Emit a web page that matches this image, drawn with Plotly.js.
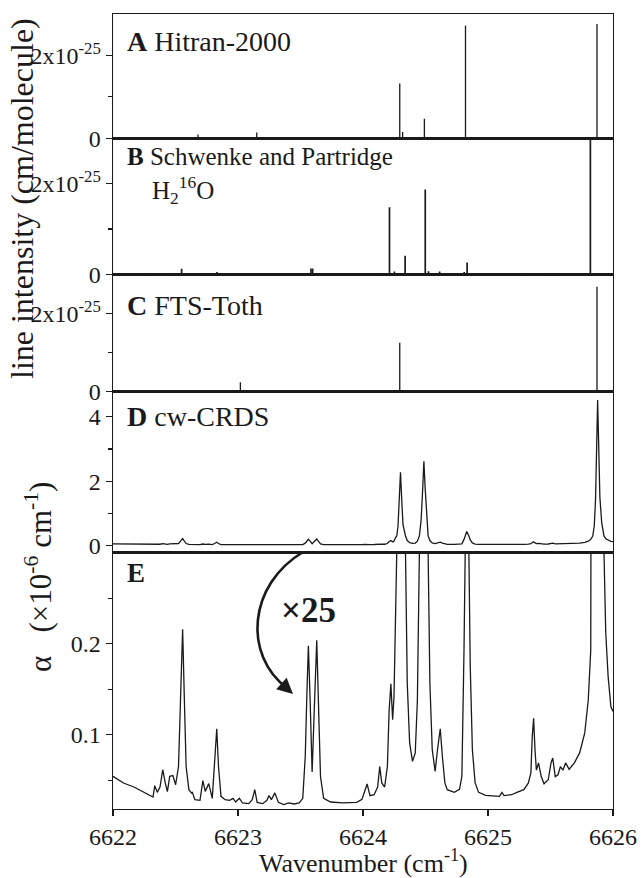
<!DOCTYPE html>
<html>
<head>
<meta charset="utf-8">
<script src="https://cdn.plot.ly/plotly-3.0.1.min.js"></script>
<style>
  html, body { margin: 0; padding: 0; background: #fff; }
  #chart { width: 643px; height: 878px; }
</style>
</head>
<body>
<div id="chart"></div>
<script>
// ---------------- DATA ----------------
// cw-CRDS absorption spectrum, alpha in 10^-6 cm^-1 (panels D and E)
const wavenumber = [6622.000, 6622.084, 6622.167, 6622.251, 6622.306, 6622.320, 6622.334, 6622.354, 6622.376, 6622.398,
  6622.418, 6622.435, 6622.454, 6622.479, 6622.501, 6622.524, 6622.540, 6622.557, 6622.571, 6622.585,
  6622.607, 6622.627, 6622.635, 6622.655, 6622.696, 6622.719, 6622.738, 6622.766, 6622.794, 6622.813,
  6622.830, 6622.844, 6622.864, 6622.897, 6622.933, 6622.961, 6622.981, 6623.011, 6623.036, 6623.086,
  6623.114, 6623.134, 6623.153, 6623.198, 6623.231, 6623.248, 6623.267, 6623.295, 6623.323, 6623.365,
  6623.407, 6623.448, 6623.490, 6623.518, 6623.538, 6623.552, 6623.563, 6623.577, 6623.593, 6623.610,
  6623.630, 6623.643, 6623.660, 6623.685, 6623.741, 6623.838, 6623.950, 6623.992, 6624.014, 6624.033,
  6624.056, 6624.089, 6624.117, 6624.134, 6624.150, 6624.173, 6624.195, 6624.209, 6624.223, 6624.237,
  6624.248, 6624.262, 6624.270, 6624.280, 6624.290, 6624.300, 6624.310, 6624.320, 6624.340, 6624.354,
  6624.373, 6624.396, 6624.418, 6624.435, 6624.451, 6624.465, 6624.478, 6624.487, 6624.497, 6624.510,
  6624.521, 6624.535, 6624.554, 6624.577, 6624.596, 6624.618, 6624.635, 6624.655, 6624.674, 6624.730,
  6624.772, 6624.791, 6624.808, 6624.819, 6624.830, 6624.847, 6624.858, 6624.875, 6624.897, 6624.925,
  6624.981, 6625.092, 6625.111, 6625.128, 6625.189, 6625.231, 6625.287, 6625.323, 6625.343, 6625.354,
  6625.365, 6625.376, 6625.387, 6625.404, 6625.426, 6625.448, 6625.482, 6625.504, 6625.518, 6625.538,
  6625.560, 6625.579, 6625.599, 6625.621, 6625.649, 6625.691, 6625.733, 6625.774, 6625.802, 6625.822,
  6625.838, 6625.850, 6625.860, 6625.870, 6625.877, 6625.885, 6625.895, 6625.910, 6625.928, 6625.942,
  6625.961, 6625.983, 6626.000];
const alpha = [0.0542, 0.0469, 0.0425, 0.0366, 0.033, 0.0315, 0.044, 0.0366, 0.0425, 0.0615,
  0.047, 0.0374, 0.0542, 0.055, 0.045, 0.065, 0.138, 0.216, 0.138, 0.065,
  0.0396, 0.036, 0.0366, 0.0286, 0.0278, 0.0495, 0.0377, 0.0462, 0.030, 0.065,
  0.1066, 0.065, 0.0322, 0.0286, 0.0278, 0.030, 0.026, 0.030, 0.0249, 0.0242,
  0.0286, 0.0396, 0.0256, 0.0242, 0.0278, 0.033, 0.0286, 0.036, 0.0256, 0.0231,
  0.025, 0.0238, 0.025, 0.030, 0.076, 0.149, 0.198, 0.138, 0.059, 0.127,
  0.204, 0.138, 0.054, 0.030, 0.026, 0.025, 0.0256, 0.029, 0.0377, 0.0458,
  0.033, 0.034, 0.0425, 0.065, 0.047, 0.0425, 0.065, 0.127, 0.156, 0.1165,
  0.142, 0.259, 0.30, 0.6, 1.4, 2.28, 1.4, 0.65, 0.30, 0.157,
  0.091, 0.0707, 0.080, 0.138, 0.30, 0.8, 1.8, 2.62, 1.8, 0.8,
  0.30, 0.157, 0.0835, 0.0597, 0.0835, 0.1066, 0.076, 0.047, 0.0396, 0.0366,
  0.040, 0.054, 0.193, 0.30, 0.44, 0.30, 0.175, 0.0835, 0.047, 0.0366,
  0.0333, 0.0322, 0.0366, 0.033, 0.034, 0.0366, 0.0396, 0.047, 0.058, 0.098,
  0.118, 0.0835, 0.061, 0.069, 0.054, 0.046, 0.0505, 0.069, 0.0744, 0.054,
  0.056, 0.065, 0.061, 0.069, 0.062, 0.069, 0.080, 0.102, 0.138, 0.193,
  0.30, 0.6, 1.4, 3.2, 4.52, 3.2, 1.5, 0.7, 0.30, 0.212,
  0.164, 0.131, 0.1256];

// Stick spectra: line positions (cm^-1) and intensities (cm/molecule)
const hitranPos = [6622.680, 6623.150, 6624.294, 6624.317, 6624.491, 6624.820, 6625.872];
const hitranInt = [0.09e-25, 0.14e-25, 1.32e-25, 0.15e-25, 0.47e-25, 2.72e-25, 2.76e-25];

const schwenkePos = [6622.312, 6622.404, 6622.427, 6622.444, 6622.549, 6622.707, 6622.789, 6622.832,
  6623.584, 6623.597, 6624.120, 6624.212, 6624.251, 6624.337, 6624.498, 6624.524, 6624.613,
  6624.810, 6624.833, 6625.264, 6625.517, 6625.819];
const schwenkeInt = [0.02e-25, 0.02e-25, 0.02e-25, 0.02e-25, 0.12e-25, 0.02e-25, 0.02e-25, 0.05e-25,
  0.13e-25, 0.13e-25, 0.03e-25, 1.48e-25, 0.06e-25, 0.41e-25, 1.87e-25, 0.07e-25, 0.06e-25,
  0.05e-25, 0.26e-25, 0.03e-25, 0.01e-25, 3.5e-25];

const tothPos = [6623.019, 6624.294, 6625.872];
const tothInt = [0.24e-25, 1.25e-25, 2.68e-25];

// Tick values / labels
const xTickVals = [6622, 6623, 6624, 6625, 6626];
const intensityTickVals = [0, 2e-25];
const intensityTickText = ['0', '2x10<sup>-25</sup>'];
const intensityMinor = [1e-25];
const crdsTickVals = [0, 2, 4];
const crdsMinor = [1, 3];
const zoomTickVals = [0.1, 0.2];
const zoomMinor = [0.05, 0.15, 0.25];

const panelLabels = ['<b>A</b> Hitran-2000', '<b>B</b> Schwenke and Partridge', '<b>C</b> FTS-Toth', '<b>D</b> cw-CRDS', '<b>E</b>'];

// ---------------- LAYOUT GEOMETRY ----------------
const W = 643, H = 878;
const M = {l: 113, r: 30, t: 14, b: 69};
const PW = W - M.l - M.r, PH = H - M.t - M.b;
const px2x = p => (p - M.l) / PW;
const py2y = p => (H - M.b - p) / PH;

// panel boundaries in pixels (top -> bottom)
const bA = [14, 138.3], bB = [138.3, 274.3], bC = [274.3, 391.7], bD = [391.7, 552.7], bE = [552.7, 809];
const dom = b => [py2y(b[1]), py2y(b[0])];

const FONT = 'Liberation Serif, Times New Roman, serif';
const INK = '#1a1a1a';

function sticks(pos, val) {
  const X = [], Y = [];
  pos.forEach((p, i) => { X.push(p, p, null); Y.push(0, val[i], null); });
  return {X, Y};
}

const sA = sticks(hitranPos, hitranInt);
const sB = sticks(schwenkePos, schwenkeInt);
const sC = sticks(tothPos, tothInt);

const lineStyle = {color: INK, width: 1.3};

const traces = [
  {x: wavenumber, y: alpha, xaxis: 'x', yaxis: 'y', type: 'scatter', mode: 'lines', line: lineStyle, hoverinfo: 'skip'},
  {x: wavenumber, y: alpha, xaxis: 'x2', yaxis: 'y2', type: 'scatter', mode: 'lines', line: lineStyle, hoverinfo: 'skip'},
  {x: sC.X, y: sC.Y, xaxis: 'x3', yaxis: 'y3', type: 'scatter', mode: 'lines', line: lineStyle, connectgaps: false, hoverinfo: 'skip'},
  {x: sB.X, y: sB.Y, xaxis: 'x4', yaxis: 'y4', type: 'scatter', mode: 'lines', line: {color: INK, width: 1.7}, connectgaps: false, hoverinfo: 'skip'},
  {x: sA.X, y: sA.Y, xaxis: 'x5', yaxis: 'y5', type: 'scatter', mode: 'lines', line: lineStyle, connectgaps: false, hoverinfo: 'skip'}
];

const baseX = {
  range: [6622, 6626], showline: true, mirror: true, linecolor: INK, linewidth: 1.4,
  showgrid: false, zeroline: false, fixedrange: true
};
const baseY = {
  showline: true, mirror: true, linecolor: INK, linewidth: 1.4, showgrid: false, zeroline: false,
  ticks: 'outside', ticklen: 6, tickwidth: 1.2, tickcolor: INK, fixedrange: true,
  tickfont: {family: FONT, size: 24, color: INK}, tickmode: 'array'
};

function intensityAxis(b) {
  return Object.assign({}, baseY, {
    domain: dom(b), range: [0, 3.0e-25],
    tickvals: intensityTickVals, ticktext: intensityTickText,
    minor: {tickmode: 'array', tickvals: intensityMinor, ticks: 'outside', ticklen: 4, tickcolor: INK, tickwidth: 1.2}
  });
}

function label(text, xp, yp, size, anchor) {
  return {text: text, x: px2x(xp), y: py2y(yp), xref: 'paper', yref: 'paper', xanchor: anchor || 'left', yanchor: 'middle',
          showarrow: false, font: {size: size, family: FONT, color: INK}};
}

const layout = {
  width: W, height: H, margin: M, showlegend: false,
  paper_bgcolor: '#fff', plot_bgcolor: '#fff',
  font: {family: FONT, color: INK},
  xaxis: Object.assign({}, baseX, {
    anchor: 'y', ticks: 'outside', ticklen: 6, tickwidth: 1.2, tickcolor: INK,
    tickmode: 'array', tickvals: xTickVals, ticktext: xTickVals.map(String),
    tickfont: {family: FONT, size: 24, color: INK}
  }),
  xaxis2: Object.assign({}, baseX, {anchor: 'y2', matches: 'x', showticklabels: false, ticks: ''}),
  xaxis3: Object.assign({}, baseX, {anchor: 'y3', matches: 'x', showticklabels: false, ticks: ''}),
  xaxis4: Object.assign({}, baseX, {anchor: 'y4', matches: 'x', showticklabels: false, ticks: ''}),
  xaxis5: Object.assign({}, baseX, {anchor: 'y5', matches: 'x', showticklabels: false, ticks: ''}),
  yaxis: Object.assign({}, baseY, {
    domain: dom(bE), range: [0.0183, 0.3003], anchor: 'x',
    tickvals: zoomTickVals, ticktext: zoomTickVals.map(String),
    minor: {tickmode: 'array', tickvals: zoomMinor, ticks: 'outside', ticklen: 4, tickcolor: INK, tickwidth: 1.2}
  }),
  yaxis2: Object.assign({}, baseY, {
    domain: dom(bD), range: [-0.22, 4.78], anchor: 'x2',
    tickvals: crdsTickVals, ticktext: crdsTickVals.map(String),
    minor: {tickmode: 'array', tickvals: crdsMinor, ticks: 'outside', ticklen: 4, tickcolor: INK, tickwidth: 1.2}
  }),
  yaxis3: Object.assign(intensityAxis(bC), {anchor: 'x3'}),
  yaxis4: Object.assign(intensityAxis(bB), {anchor: 'x4'}),
  yaxis5: Object.assign(intensityAxis(bA), {anchor: 'x5'}),
  annotations: [
    label(panelLabels[0], 125, 42, 28),
    label(panelLabels[1], 125, 157, 25),
    label('H<sub>2</sub><sup>16</sup>O', 150, 190, 25),
    label(panelLabels[2], 125, 305, 28),
    label(panelLabels[3], 125, 416, 28),
    label(panelLabels[4], 125, 573, 27),
    label('<b>×25</b>', 308, 610, 35, 'center'),
    // arrow head at the end of the curved arrow
    {text: '', x: px2x(293), y: py2y(694), xref: 'paper', yref: 'paper', showarrow: true, ax: -10, ay: -9, arrowhead: 2, arrowsize: 1.3, arrowwidth: 2.4, arrowcolor: INK},
    // axis titles
    Object.assign(label('line intensity (cm/molecule)', 22, 199, 32, 'center'), {textangle: -90}),
    Object.assign(label('α   (×10<sup>-6</sup> cm<sup>-1</sup>)', 38, 577, 31, 'center'), {textangle: -90}),
    label('Wavenumber (cm<sup>-1</sup>)', 363, 861, 26, 'center')
  ],
  shapes: [
    {type: 'path', xref: 'paper', yref: 'paper', layer: 'above',
     path: 'M ' + px2x(303) + ',' + py2y(552) + ' C ' + px2x(248) + ',' + py2y(585) + ' ' + px2x(243) + ',' + py2y(655) + ' ' + px2x(287) + ',' + py2y(688),
     line: {color: INK, width: 2.6}}
  ]
};

Plotly.newPlot('chart', traces, layout, {displayModeBar: false, staticPlot: true});
</script>
</body>
</html>
